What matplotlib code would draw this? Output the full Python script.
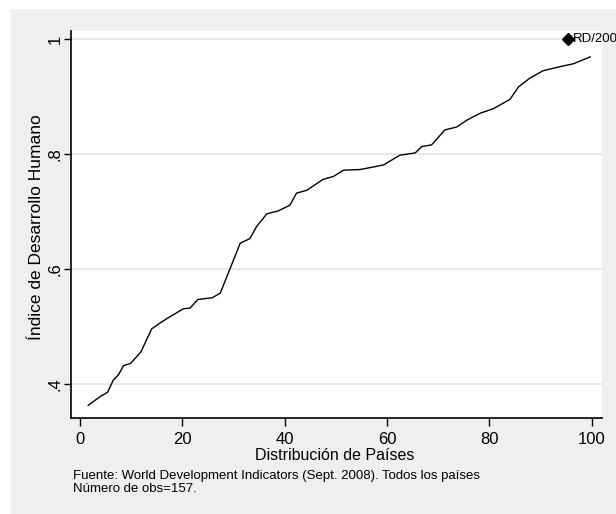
import matplotlib
matplotlib.use('Agg')
import matplotlib.pyplot as plt
from matplotlib.patches import Rectangle

# percentiles of countries vs HDI
pct = [1.6, 3.9, 5.4, 6.5, 7.5, 8.5, 9.9, 11.9, 14.0, 15.6, 17.0, 20.2, 21.5, 23.0,
       24.8, 25.8, 27.4, 28.7, 31.3, 33.2, 34.5, 36.5, 38.7, 41.0, 42.3, 44.3, 47.5,
       49.5, 51.5, 54.7, 59.3, 62.5, 65.5, 66.8, 68.7, 71.3, 73.6, 75.6, 78.2, 80.8,
       84.0, 85.7, 87.9, 90.5, 93.8, 96.4, 99.7]
idh = [0.363, 0.378, 0.386, 0.407, 0.416, 0.432, 0.436, 0.456, 0.496, 0.506, 0.514,
       0.531, 0.532, 0.547, 0.549, 0.550, 0.558, 0.587, 0.645, 0.653, 0.674, 0.696,
       0.701, 0.711, 0.732, 0.737, 0.756, 0.761, 0.772, 0.773, 0.781, 0.798, 0.802,
       0.813, 0.816, 0.842, 0.847, 0.859, 0.871, 0.879, 0.895, 0.917, 0.932, 0.945,
       0.952, 0.957, 0.969]

rd_x = [95.4]
rd_y = [1.0]
rd_label = 'RD/2007'

xticks = [0, 20, 40, 60, 80, 100]
yticks = [0.4, 0.6, 0.8, 1.0]
ytick_labels = ['.4', '.6', '.8', '1']

plt.rcParams['font.family'] = ['Liberation Sans', 'DejaVu Sans']

fig = plt.figure(figsize=(6.16, 5.14), dpi=100)
fig.patch.set_facecolor('white')
# gray graph region (behind the axes)
bg = Rectangle((0.0179, 0.0), 0.99, 0.9825, transform=fig.transFigure,
               facecolor='#efefef', edgecolor='none', zorder=-10)
fig.patches.append(bg)

ax = fig.add_axes([0.1153, 0.1868, 0.862, 0.7529])
ax.set_zorder(1)
ax.set_facecolor('white')
ax.plot(pct, idh, color='black', lw=1.0)
ax.plot(rd_x, rd_y, marker='D', color='black', markersize=6, linestyle='none', clip_on=False)
ax.text(rd_x[0] + 1.0, rd_y[0], rd_label, fontsize=9.5, va='center', ha='left', clip_on=False)

ax.set_xlim(-1.76, 102.0)
ax.set_ylim(0.341, 1.014)
ax.set_xticks(xticks)
ax.set_xticklabels([str(t) for t in xticks], fontsize=12)
ax.set_yticks(yticks)
ax.set_yticklabels(ytick_labels, fontsize=12, rotation=90, va='center')
ax.tick_params(axis='x', length=6, width=1, color='black', pad=4)
ax.tick_params(axis='y', length=5, width=1, color='black', pad=1)
ax.grid(axis='y', color='#e8e8e8', lw=1.5)
ax.set_axisbelow(True)
for side in ['top', 'right']:
    ax.spines[side].set_visible(False)
for side in ['left', 'bottom']:
    ax.spines[side].set_linewidth(1.2)

fig.text(0.544, 1 - 455 / 514, 'Distribución de Países', fontsize=11.5, ha='center', va='center')
fig.text(37 / 616, 0.558, 'Índice de Desarrollo Humano', fontsize=12.5, ha='center', va='center',
         rotation=90)
fig.text(0.1185, 1 - 476 / 514, 'Fuente: World Development Indicators (Sept. 2008). Todos los países',
         fontsize=9.5, ha='left', va='center')
fig.text(0.1185, 1 - 489 / 514, 'Número de obs=157.', fontsize=9.5, ha='left', va='center')

fig.savefig('out.png', dpi=100, facecolor=fig.get_facecolor())
